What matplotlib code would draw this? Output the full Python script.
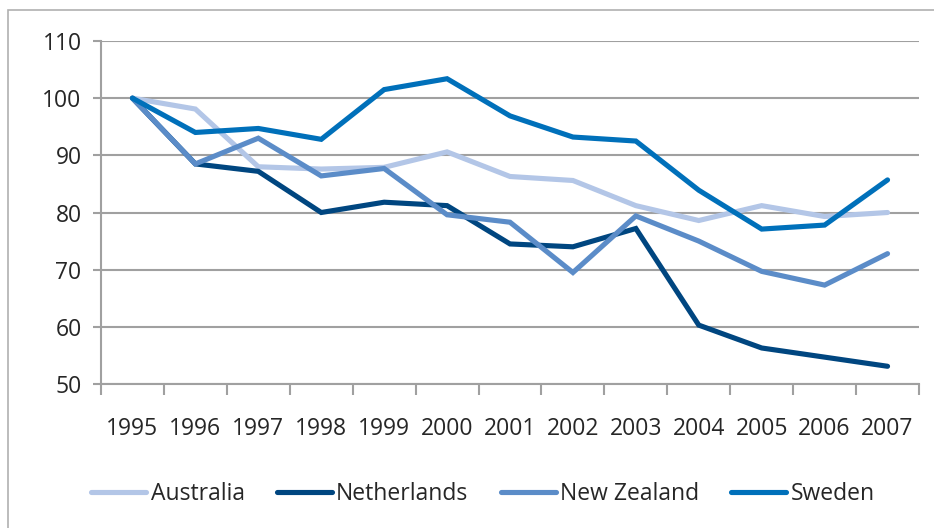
import matplotlib.pyplot as plt
from matplotlib.patches import Rectangle

years = ['1995', '1996', '1997', '1998', '1999', '2000', '2001',
         '2002', '2003', '2004', '2005', '2006', '2007']
australia = [100, 98.1, 88.0, 87.6, 87.9, 90.6, 86.3, 85.6, 81.2, 78.6, 81.2, 79.3, 80.0]
netherlands = [100, 88.5, 87.2, 80.0, 81.8, 81.2, 74.5, 74.0, 77.2, 60.3, 56.3, 54.7, 53.1]
new_zealand = [100, 88.5, 93.0, 86.4, 87.7, 79.6, 78.3, 69.5, 79.4, 75.0, 69.7, 67.3, 72.8]
sweden = [100, 94.0, 94.7, 92.8, 101.5, 103.4, 96.9, 93.2, 92.5, 83.9, 77.1, 77.8, 85.7]

series = [('Australia', australia, '#B3C6E7'),
          ('Netherlands', netherlands, '#004680'),
          ('New Zealand', new_zealand, '#5B8CC8'),
          ('Sweden', sweden, '#0070BA')]

plt.rcParams['font.family'] = ['Open Sans', 'DejaVu Sans']
text_col = '#262626'
grid_col = '#A0A0A0'

fig = plt.figure(figsize=(9.34, 5.28), dpi=100)
fig.patches.append(Rectangle((8 / 934, -0.1), 1.2, 1 - 10 / 528 + 0.1,
                             transform=fig.transFigure, fill=False,
                             edgecolor='#B0B0B0', lw=1.2))
ax = fig.add_axes([101 / 934, 1 - 384 / 528, (919 - 101) / 934, (384 - 41) / 528])

x = list(range(len(years)))
for name, vals, col in series:
    ax.plot(x, vals, color=col, lw=3.7, label=name, solid_joinstyle='miter',
            solid_capstyle='round', zorder=3)

ax.set_xlim(-0.5, len(years) - 0.5)
ax.set_ylim(50, 110)
ax.set_yticks(range(50, 111, 10))
ax.yaxis.grid(True, color=grid_col, lw=1.5)
ax.set_axisbelow(True)
for s in ['top', 'right']:
    ax.spines[s].set_visible(False)
for s in ['left', 'bottom']:
    ax.spines[s].set_color(grid_col)
    ax.spines[s].set_linewidth(1.5)

# category boundaries get the tick marks, labels sit in between
ax.set_xticks([i - 0.5 for i in range(len(years) + 1)])
ax.set_xticklabels([])
ax.set_xticks(x, minor=True)
ax.set_xticklabels(years, minor=True)
ax.tick_params(axis='x', which='major', length=8, width=1.5, color=grid_col)
ax.tick_params(axis='x', which='minor', length=0, pad=24, labelsize=16.5, labelcolor=text_col)
ax.tick_params(axis='y', length=6, width=1.5, color=grid_col, pad=8,
               labelsize=16.5, labelcolor=text_col)

handles, labels = ax.get_legend_handles_labels()
leg = fig.legend(handles, labels, loc='center', bbox_to_anchor=(483 / 934, 1 - 494 / 528),
                 ncol=4, frameon=False, fontsize=16.5, handlelength=2.4,
                 handletextpad=0.2, columnspacing=1.4, labelcolor=text_col)

fig.savefig('out.png', dpi=100)
